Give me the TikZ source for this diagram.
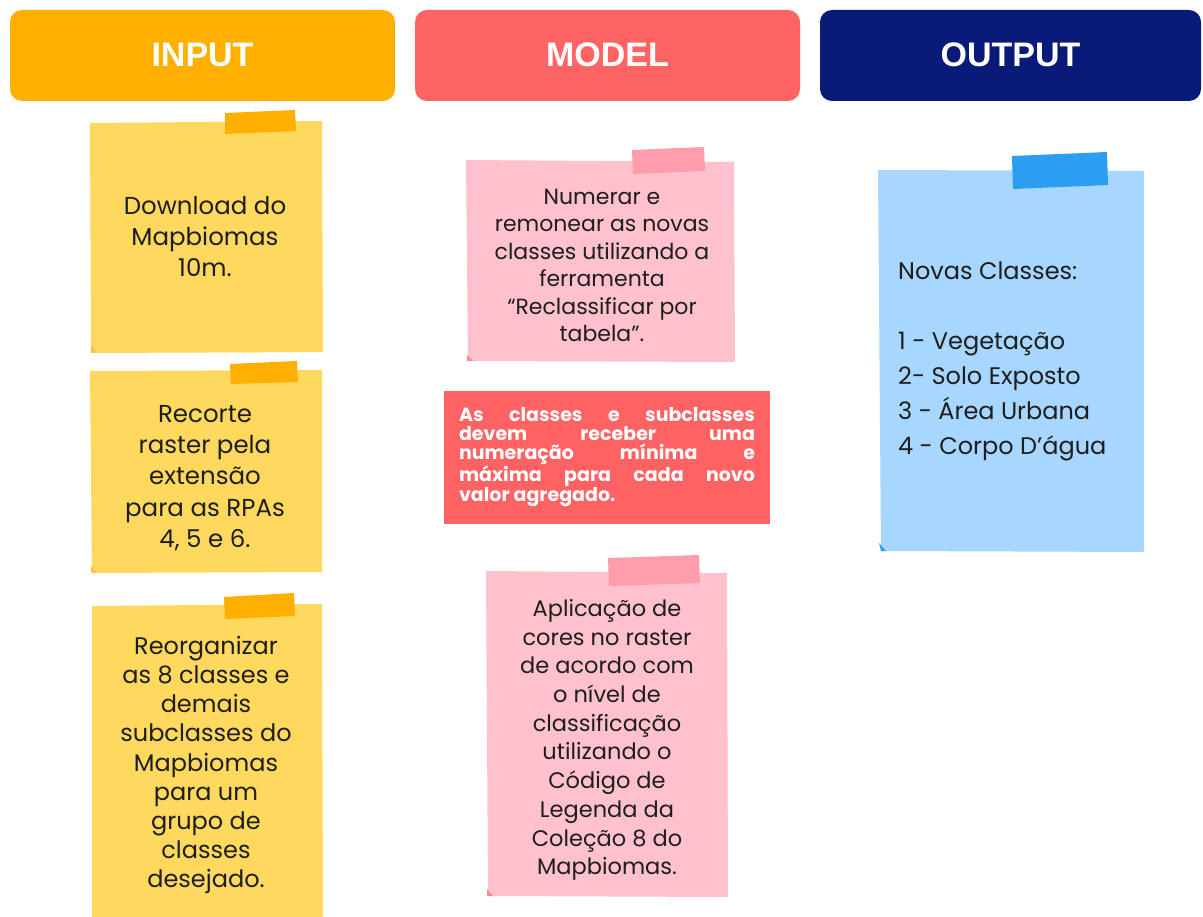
\documentclass[tikz,border=0pt]{standalone}
\usepackage{fontspec}
\setmainfont{Poppins}
\newfontfamily\headfont{Liberation Sans}
\definecolor{hdrin}{HTML}{FFAF00}
\definecolor{hdrmodel}{HTML}{FF6464}
\definecolor{hdrout}{HTML}{0A1A78}
\definecolor{noteyel}{HTML}{FFD85E}
\definecolor{tapeyel}{HTML}{FFAF00}
\definecolor{notepink}{HTML}{FFC1CB}
\definecolor{tapepink}{HTML}{FF9DAD}
\definecolor{warnred}{HTML}{FF6262}
\definecolor{noteblue}{HTML}{A7D7FF}
\definecolor{tapeblue}{HTML}{2C9EF2}
\definecolor{inktext}{HTML}{1E1E1E}
\begin{document}
\begin{tikzpicture}[x=1pt,y=-1pt,
  header/.style={inner sep=0pt, text=white,
    font=\headfont\bfseries\fontsize{34}{40}\selectfont},
  notetext/.style={align=center, text=inktext, inner sep=0pt},
]
\useasboundingbox (0,0) rectangle (1203,917);
\fill[white] (0,0) rectangle (1203,917);

% column headers
\fill[hdrin, rounded corners=12pt] (10,10) rectangle (395,101);
\fill[hdrmodel, rounded corners=12pt] (415,10) rectangle (800,101);
\fill[hdrout, rounded corners=12pt] (820,10) rectangle (1201,101);
\node[header] (hin) at (202.5,55) {INPUT};
\node[header] (hmodel) at (607.5,55) {MODEL};
\node[header] (hout) at (1010.5,55) {OUTPUT};

% ---------- INPUT notes ----------
% note 1
\fill[noteyel] (90,123) -- (322,121) -- (323,352) -- (91,353) -- cycle;
\fill[noteyel!75!orange] (91,345) -- (97,353) -- (91,353) -- cycle;
\fill[tapeyel] (225,113) -- (295,110) -- (296,131) -- (225,134) -- cycle;
\node[notetext, font=\fontsize{24.5}{31}\selectfont] (in1) at (205,237)
  {Download do\\Mapbiomas\\10m.};

% note 2
\fill[noteyel] (90,371) -- (322,370) -- (322,572) -- (92,573) -- cycle;
\fill[noteyel!75!orange] (91,566) -- (97,573) -- (91,573) -- cycle;
\fill[tapeyel] (230,364) -- (297,361) -- (298,382) -- (231,384) -- cycle;
\node[notetext, font=\fontsize{24.5}{31.3}\selectfont] (in2) at (205,478)
  {Recorte\\raster pela\\extensão\\para as RPAs\\4, 5 e 6.};

% note 3
\fill[noteyel] (92,606) -- (322,604) -- (323,917) -- (92,917) -- cycle;
\fill[tapeyel] (224,597) -- (294,593) -- (295,616) -- (225,619) -- cycle;
\node[notetext, font=\fontsize{24}{29.1}\selectfont] (in3) at (206,765)
  {Reorganizar\\as 8 classes e\\demais\\subclasses do\\Mapbiomas\\para um\\grupo de\\classes\\desejado.};

% ---------- MODEL notes ----------
\fill[notepink] (466,160) -- (734,162) -- (735,362) -- (468,361) -- cycle;
\fill[notepink!70!red] (467,355) -- (473,361) -- (467,361) -- cycle;
\fill[tapepink] (632,150) -- (704,147) -- (705,171) -- (633,174) -- cycle;
\node[notetext, font=\fontsize{22}{27.4}\selectfont] (m1) at (602,265.5)
  {Numerar e\\remonear as novas\\classes utilizando a\\ferramenta\\“Reclassificar por\\tabela”.};

\fill[warnred] (444,391) rectangle (770,524);
\node[text=white, inner sep=0pt, text width=296pt, align=justify,
  font=\bfseries\fontsize{19}{18.7}\selectfont] (m2) at (607,457)
  {\hyphenpenalty=10000 As classes e subclasses\linebreak devem receber uma\linebreak numeração mínima e\linebreak máxima para cada novo\linebreak valor agregado.};

\fill[notepink] (486,571) -- (727,573) -- (728,897) -- (488,896) -- cycle;
\fill[notepink!70!red] (487,889) -- (493,896) -- (487,896) -- cycle;
\fill[tapepink] (608,558) -- (699,555) -- (700,583) -- (609,586) -- cycle;
\node[notetext, font=\fontsize{22.5}{28.7}\selectfont] (m3) at (607,740)
  {Aplicação de\\cores no raster\\de acordo com\\o nível de\\classificação\\utilizando o\\Código de\\Legenda da\\Coleção 8 do\\Mapbiomas.};

% ---------- OUTPUT note ----------
\fill[noteblue] (878,170) -- (1144,171) -- (1144,552) -- (881,551) -- cycle;
\fill[tapeblue] (879,543) -- (886,551) -- (881,551) -- cycle;
\fill[tapeblue] (1012,156) -- (1107,152) -- (1108,185) -- (1013,189) -- cycle;
\node[notetext, align=left, anchor=north west, font=\fontsize{24}{35}\selectfont] (o1) at (898,262)
  {Novas Classes:\\[35pt]1 - Vegetação\\2- Solo Exposto\\3 - Área Urbana\\4 - Corpo D’água};
\end{tikzpicture}
\end{document}
